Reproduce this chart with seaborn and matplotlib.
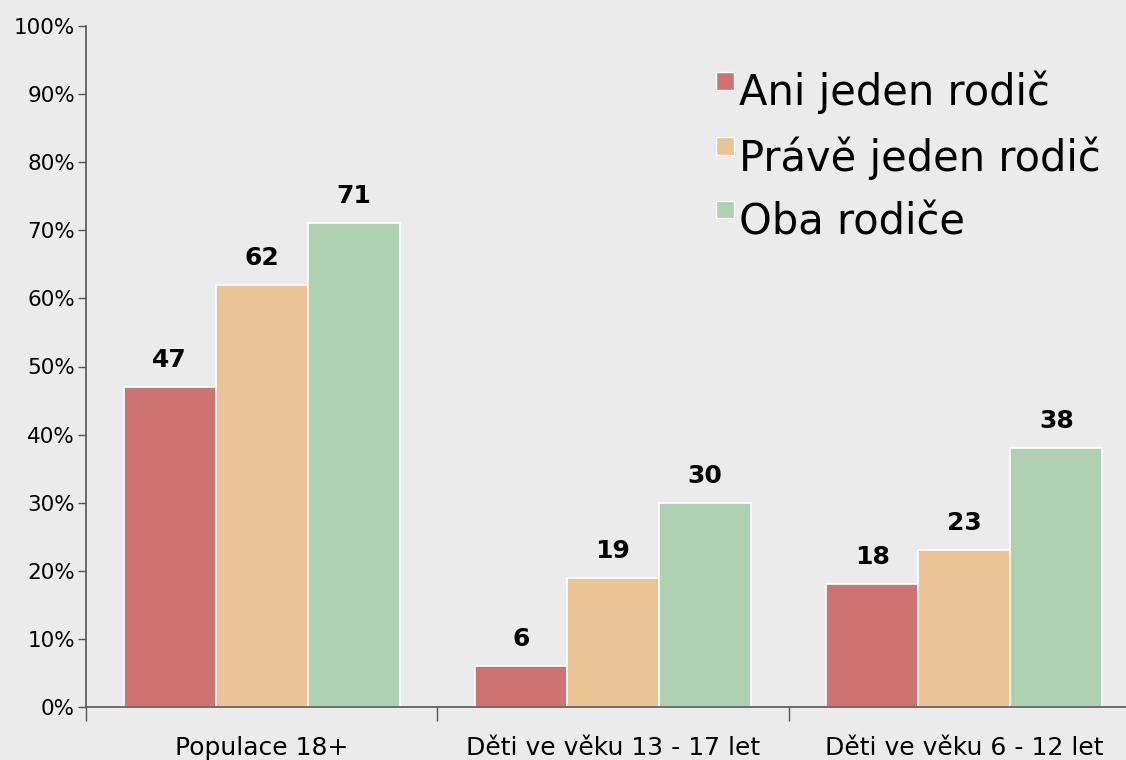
import pandas as pd
import numpy as np
import matplotlib.pyplot as plt
import seaborn as sns
from matplotlib.patches import Rectangle
from matplotlib.legend_handler import HandlerPatch

# --- data ---
groups = ['Populace 18+', 'Děti ve věku 13 - 17 let', 'Děti ve věku 6 - 12 let']
series = ['Ani jeden rodič', 'Právě jeden rodič', 'Oba rodiče']
ani_jeden = [47, 6, 18]
prave_jeden = [62, 19, 23]
oba = [71, 30, 38]
colors = ['#CD7472', '#EBC496', '#AED1B1']

df = pd.DataFrame({
    'skupina': groups * 3,
    'rodice': [s for s in series for _ in groups],
    'hodnota': ani_jeden + prave_jeden + oba,
})

sns.set_theme(style='white')
plt.rcParams['font.family'] = ['DejaVu Sans']
plt.rcParams['text.color'] = 'black'
plt.rcParams['xtick.color'] = 'black'
plt.rcParams['ytick.color'] = 'black'
bg = '#EBEBEB'
axis_col = '#555555'

fig = plt.figure(figsize=(11.26, 7.6), dpi=100, facecolor=bg)
# axes stretches slightly past the right edge, like the original
ax = fig.add_axes([86 / 1126, 53 / 760, 1054 / 1126, 681 / 760], facecolor=bg)

sns.barplot(data=df, x='skupina', y='hodnota', hue='rodice', order=groups,
            hue_order=series, palette=colors, width=0.785, gap=0,
            edgecolor='white', linewidth=1.2, saturation=1, ax=ax)

# value labels
for cont in ax.containers:
    for bar in cont:
        h = bar.get_height()
        ax.annotate(f'{h:.0f}', (bar.get_x() + bar.get_width() / 2, h),
                    xytext=(0, 19.5), textcoords='offset points',
                    ha='center', va='center', fontsize=18, fontweight='bold',
                    color='black')

ax.set_xlim(-0.5, 2.5)
ax.set_ylim(0, 100)
ax.set_yticks(np.arange(0, 101, 10))
ax.set_yticklabels([f'{v}%' for v in range(0, 101, 10)], fontsize=15.5)
ax.set_xticks([-0.5, 0.5, 1.5])
ax.set_xticklabels([])
ax.set_xticks([0, 1, 2], minor=True)
ax.set_xticklabels(groups, minor=True, fontsize=18)
ax.tick_params(axis='x', which='minor', bottom=False, length=0, pad=21)
ax.tick_params(axis='x', which='major', bottom=True, length=10,
               direction='out', color=axis_col, width=1)
ax.tick_params(axis='y', left=True, length=6, direction='out',
               color=axis_col, width=1, pad=2)
ax.set_xlabel('')
ax.set_ylabel('')

for s in ['top', 'right']:
    ax.spines[s].set_visible(False)
for s in ['left', 'bottom']:
    ax.spines[s].set_color(axis_col)
    ax.spines[s].set_linewidth(1.2)


# small square legend keys sitting at the top of the text line
def square_key(legend, orig_handle, xdescent, ydescent, width, height, fontsize):
    side = 0.42 * fontsize
    y0 = -ydescent + height / 2 + 0.45 * fontsize - side
    return Rectangle((-xdescent + width - side, y0), side, side)


leg = ax.legend(loc='upper left', bbox_to_anchor=(0.597, 0.934),
                frameon=False, fontsize=30, handlelength=0.45,
                handleheight=0.7, handletextpad=0.12, labelspacing=0.52,
                borderaxespad=0, borderpad=0,
                handler_map={Rectangle: HandlerPatch(patch_func=square_key)})
for h in leg.legend_handles:
    h.set_edgecolor('white')
    h.set_linewidth(1)

fig.savefig('out.png', dpi=100, facecolor=bg)
